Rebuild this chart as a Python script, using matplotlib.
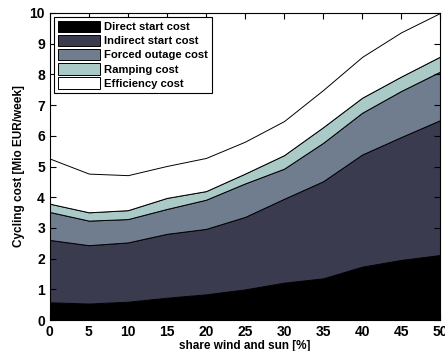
import matplotlib.pyplot as plt
import numpy as np

plt.rcParams['font.family'] = ['Liberation Sans', 'DejaVu Sans']
plt.rcParams['font.weight'] = 'bold'

# share of wind and sun in the system [%]
share = [0, 5, 10, 15, 20, 25, 30, 35, 40, 45, 50]

# cycling cost components [Mio EUR/week]
direct_start = [0.58, 0.54, 0.60, 0.73, 0.84, 1.00, 1.22, 1.36, 1.74, 1.96, 2.12]
indirect_start = [2.03, 1.90, 1.93, 2.08, 2.13, 2.36, 2.73, 3.16, 3.65, 4.00, 4.39]
forced_outage = [0.91, 0.80, 0.76, 0.81, 0.95, 1.09, 0.98, 1.25, 1.36, 1.50, 1.58]
ramping = [0.27, 0.27, 0.29, 0.36, 0.28, 0.32, 0.44, 0.51, 0.49, 0.47, 0.49]
efficiency = [1.47, 1.26, 1.14, 1.04, 1.08, 1.04, 1.11, 1.21, 1.33, 1.44, 1.42]

labels = ['Direct start cost', 'Indirect start cost', 'Forced outage cost',
          'Ramping cost', 'Efficiency cost']
colors = ['#000000', '#3b3b50', '#6f7d8f', '#aacac8', '#ffffff']

fig = plt.figure(figsize=(4.45, 3.51), dpi=100)
ax = fig.add_axes([0.112, 0.088, 0.877, 0.875])

ax.stackplot(share, direct_start, indirect_start, forced_outage, ramping, efficiency,
             labels=labels, colors=colors, edgecolor='black', linewidth=0.7)

ax.set_xlim(0, 50)
ax.set_ylim(0, 10)
ax.set_xticks(np.arange(0, 51, 5))
ax.set_yticks(np.arange(0, 11, 1))
ax.tick_params(direction='in', top=True, right=True, labelsize=10, length=4, width=0.8)
for lbl in ax.get_xticklabels() + ax.get_yticklabels():
    lbl.set_fontweight('bold')

ax.set_xlabel('share wind and sun [%]', fontsize=8.5, fontweight='bold', labelpad=1)
ax.set_ylabel('Cycling cost [Mio EUR/week]', fontsize=8.5, fontweight='bold', labelpad=3)

leg = ax.legend(loc='upper left', fontsize=8.1, frameon=True, fancybox=False,
                edgecolor='black', framealpha=1, handlelength=3.8, handleheight=1.2,
                labelspacing=0.22, borderpad=0.35, handletextpad=0.3,
                borderaxespad=0.35)
leg.get_frame().set_linewidth(0.8)
for t in leg.get_texts():
    t.set_fontweight('bold')

fig.savefig('out.png', dpi=100)
